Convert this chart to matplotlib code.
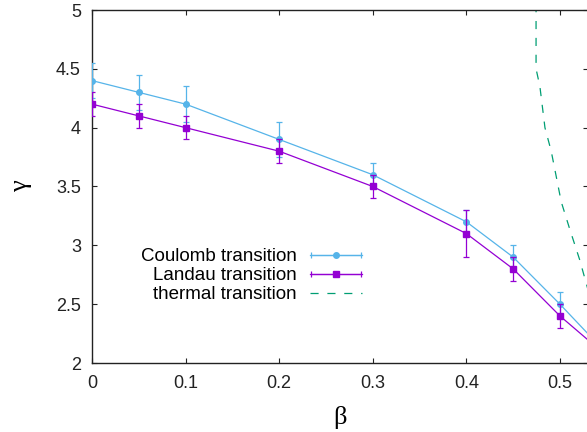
import numpy as np
import matplotlib
matplotlib.use("Agg")
import matplotlib.pyplot as plt
from matplotlib.container import ErrorbarContainer
from matplotlib.lines import Line2D
from matplotlib.collections import LineCollection
from matplotlib.legend_handler import HandlerErrorbar

# ---- data ----
beta_pts = [0.0, 0.05, 0.1, 0.2, 0.3, 0.4, 0.45, 0.5, 0.55]
coulomb = [4.4, 4.3, 4.2, 3.9, 3.6, 3.2, 2.9, 2.5, 2.08]
coulomb_err = [0.15, 0.15, 0.15, 0.15, 0.1, 0.1, 0.1, 0.1, 0.1]
landau = [4.2, 4.1, 4.0, 3.8, 3.5, 3.1, 2.8, 2.4, 2.06]
landau_err = [0.1, 0.1, 0.1, 0.1, 0.1, 0.2, 0.1, 0.1, 0.1]

thermal_beta = [0.4745, 0.4745, 0.4786, 0.484, 0.4907, 0.5014, 0.510, 0.521, 0.528, 0.536]
thermal_gamma = [5.05, 4.5, 4.35, 4.0, 3.8, 3.37, 3.15, 2.88, 2.68, 2.45]

xticks = [0, 0.1, 0.2, 0.3, 0.4, 0.5]
xticklabels = ["0", "0.1", "0.2", "0.3", "0.4", "0.5"]
yticks = [2, 2.5, 3, 3.5, 4, 4.5, 5]
yticklabels = ["2", "2.5", "3", "3.5", "4", "4.5", "5"]

labels = ["Coulomb transition", "Landau transition", "thermal transition"]
c_blue = "#56b4e9"
c_purple = "#9400d3"
c_green = "#009e73"

plt.rcParams["font.family"] = ["Liberation Sans", "DejaVu Sans"]

W, H = 587, 432
fig = plt.figure(figsize=(W / 100, H / 100), dpi=100)
x0, x1 = 92, 588
y0, y1 = 363, 10
ax = fig.add_axes([x0 / W, 1 - y0 / H, (x1 - x0) / W, (y0 - y1) / H])

lw = 0.9
ax.errorbar(beta_pts, coulomb, yerr=coulomb_err, color=c_blue, marker="o", ms=4,
            lw=lw, elinewidth=lw, capsize=2.2, capthick=lw, zorder=3)
ax.errorbar(beta_pts, landau, yerr=landau_err, color=c_purple, marker="s", ms=5,
            lw=lw, elinewidth=lw, capsize=2.2, capthick=lw, zorder=4)
ax.plot(thermal_beta, thermal_gamma, color=c_green, lw=lw, dashes=(6.5, 7.0))

ax.set_xlim(0, 0.53)
ax.set_ylim(2, 5)
ax.set_xticks(xticks)
ax.set_xticklabels(xticklabels)
ax.set_yticks(yticks)
ax.set_yticklabels(yticklabels)
ax.tick_params(direction="in", length=3.5, width=0.8, labelsize=13, top=True, right=True,
               colors="#222222")
ax.tick_params(axis="x", pad=9)
ax.tick_params(axis="y", pad=8)
for s in ax.spines.values():
    s.set_linewidth(1.0)
    s.set_color("#222222")

ax.set_xlabel("β", family=["Liberation Serif", "DejaVu Serif"], fontsize=19, labelpad=10)
ax.set_ylabel("γ", family=["Liberation Serif", "DejaVu Serif"], fontsize=19, labelpad=17)

# legend proxies (gnuplot-style horizontal error bar samples)
def proxy(color, marker, ms):
    ln = Line2D([], [], color=color, marker=marker, ms=ms, lw=lw)
    cap = Line2D([], [], color=color, marker="|", ms=5, mew=lw)
    bar = LineCollection([], colors=color, linewidths=lw)
    return ErrorbarContainer((ln, (cap,), (bar,)), has_xerr=True, has_yerr=False)

h1 = proxy(c_blue, "o", 4)
h2 = proxy(c_purple, "s", 5)
h3 = Line2D([], [], color=c_green, lw=lw, dashes=(6.5, 7.0))
leg = ax.legend([h1, h2, h3], labels, loc="upper right", bbox_to_anchor=(0.545, 0.325),
                frameon=False, markerfirst=False, fontsize=13.5, handlelength=2.8,
                handletextpad=0.7, labelspacing=0.1, borderpad=0, borderaxespad=0,
                handler_map={ErrorbarContainer: HandlerErrorbar(xerr_size=1.35)})

fig.savefig("out.png", dpi=100)
